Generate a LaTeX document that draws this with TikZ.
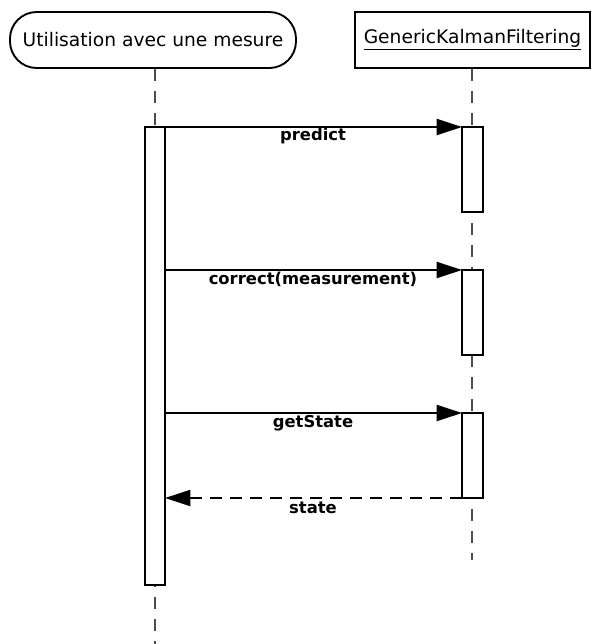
\documentclass[tikz,border=0pt]{standalone}
\usepackage{fontspec}
\setmainfont{DejaVu Sans}
\usetikzlibrary{arrows.meta}
\begin{document}
\begin{tikzpicture}[x=0.75pt,y=-0.75pt,
  lifeline/.style={draw=black!70,line width=0.8pt,dash pattern=on 9pt off 7.5pt},
  actbox/.style={draw,fill=white,line width=1.5pt},
  msg/.style={line width=1.5pt,-{Triangle[length=19pt,width=12pt]}},
  ret/.style={msg,dash pattern=on 9pt off 6pt},
  lbl/.style={font=\fontsize{12.3}{14}\selectfont\bfseries,inner sep=0pt}]
\useasboundingbox (0,0) rectangle (593,644);
% header nodes
\node[draw,line width=1.4pt,rounded corners=20pt,minimum width=286*0.75pt,minimum height=56*0.75pt,font=\fontsize{14}{16}\selectfont] (a) at (153,40) {Utilisation avec une mesure};
\node[draw,line width=1.4pt,minimum width=235*0.75pt,minimum height=56*0.75pt,font=\fontsize{14}{16}\selectfont] (b) at (472.5,40) {\underline{GenericKalmanFiltering}};
% lifelines
\coordinate (aend) at (155,644);
\coordinate (bend) at (472,560);
\draw[lifeline] (a.south -| 155,0) -- (aend);
\draw[lifeline] (b.south -| 472,0) -- (bend);
% activations
\draw[actbox] (145,127) rectangle (165,585);
\draw[actbox] (462,127) rectangle (483,212);
\draw[actbox] (462,270) rectangle (483,355);
\draw[actbox] (462,413) rectangle (483,498);
\coordinate (s1) at (165,127); \coordinate (t1) at (462,127);
\coordinate (s2) at (165,270); \coordinate (t2) at (462,270);
\coordinate (s3) at (165,413); \coordinate (t3) at (462,413);
\coordinate (s4) at (462,498); \coordinate (t4) at (165,498);
\draw[msg] (s1) -- (t1);
\draw[msg] (s2) -- (t2);
\draw[msg] (s3) -- (t3);
\draw[ret] (s4) -- (t4);
\node[lbl] (l1) at (313,136) {predict};
\node[lbl] (l2) at (313,279) {correct(measurement)};
\node[lbl] (l3) at (313,423) {getState};
\node[lbl] (l4) at (313,508) {state};
\end{tikzpicture}
\end{document}
